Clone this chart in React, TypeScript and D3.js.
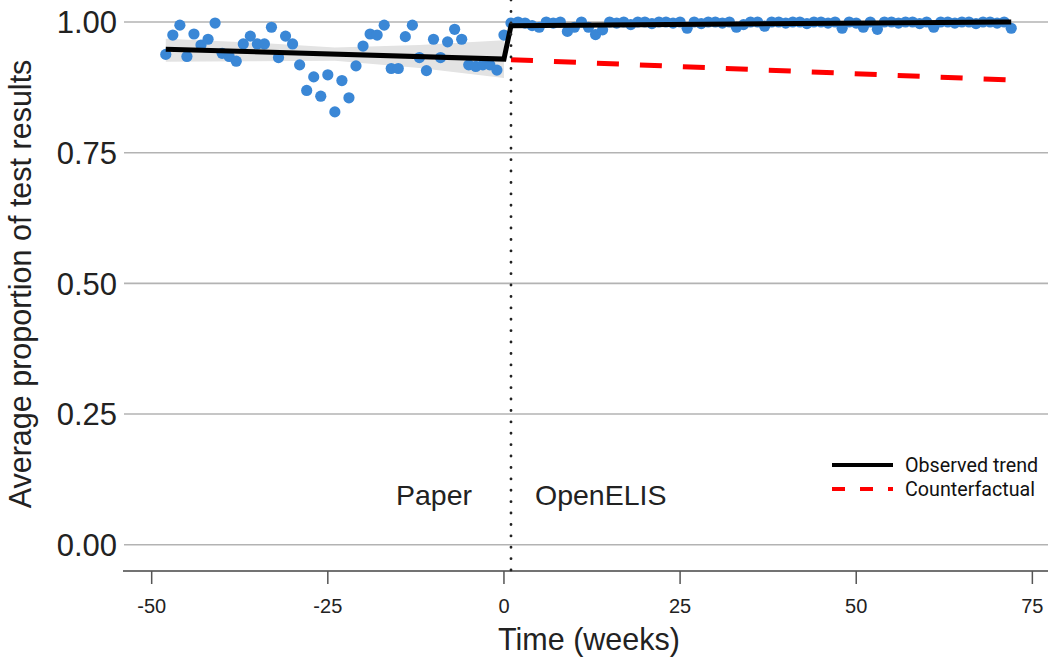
import React from "react";
import * as d3 from "d3";

const preWeeks = d3.range(-48, 1);
const preValues = [
  0.938, 0.975, 0.994, 0.934, 0.977, 0.956, 0.967, 0.998, 0.940, 0.934,
  0.925, 0.958, 0.973, 0.958, 0.958, 0.990, 0.932, 0.973, 0.958, 0.918,
  0.869, 0.895, 0.858, 0.899, 0.828, 0.888, 0.855, 0.916, 0.954, 0.977,
  0.975, 0.994, 0.911, 0.911, 0.972, 0.994, 0.932, 0.907, 0.967, 0.932,
  0.962, 0.986, 0.967, 0.918, 0.915, 0.918, 0.918, 0.908, 0.975,
];

const postWeeks = d3.range(1, 73);
const postValues = [
  0.998, 1.0, 0.998, 0.993, 0.99, 1.0, 0.998, 1.0, 0.982, 0.99,
  1.0, 0.99, 0.976, 0.985, 1.0, 0.998, 1.0, 0.995, 1.0, 1.0,
  0.997, 1.0, 1.0, 0.998, 1.0, 0.988, 1.0, 0.997, 1.0, 1.0,
  0.998, 1.0, 0.99, 0.995, 1.0, 1.0, 0.992, 1.0, 1.0, 0.998,
  1.0, 1.0, 0.997, 1.0, 1.0, 0.998, 1.0, 0.988, 1.0, 0.998,
  0.99, 1.0, 0.986, 1.0, 1.0, 0.998, 1.0, 1.0, 0.997, 1.0,
  0.99, 1.0, 1.0, 0.998, 1.0, 1.0, 0.997, 1.0, 1.0, 0.998,
  1.0, 0.988,
];

const trendWeeks = [-48, 0, 1, 72];
const trendValues = [0.948, 0.929, 0.993, 1.0];

const counterWeeks = [1, 72];
const counterValues = [0.928, 0.889];

const ribbonWeeks = [-48, -36, -24, -12, 0];
const ribbonUpper = [0.968, 0.961, 0.951, 0.956, 0.965];
const ribbonLower = [0.924, 0.925, 0.926, 0.912, 0.893];

const xTicks = [-50, -25, 0, 25, 50, 75];
const yTicks = [0, 0.25, 0.5, 0.75, 1.0];
const interventionWeek = 1;

const legendLabels = ["Observed trend", "Counterfactual"];

export default function App() {
  const W = 1048;
  const H = 664;
  const x = d3.scaleLinear().domain([-54, 78]).range([123.5, 1053.5]);
  const y = d3.scaleLinear().domain([0, 1]).range([544.7, 22]);
  const axisY = 571;
  const sans = "'Liberation Sans', Arial, sans-serif";

  const line = d3
    .line<[number, number]>()
    .x((d) => x(d[0]))
    .y((d) => y(d[1]));

  const area = d3
    .area<number>()
    .x((_, i) => x(ribbonWeeks[i]))
    .y0((_, i) => y(ribbonLower[i]))
    .y1((_, i) => y(ribbonUpper[i]));

  const trendPts: [number, number][] = trendWeeks.map((w, i) => [w, trendValues[i]]);
  const counterPts: [number, number][] = counterWeeks.map((w, i) => [w, counterValues[i]]);

  const points = [
    ...preWeeks.map((w, i) => ({ w, v: preValues[i] })),
    ...postWeeks.map((w, i) => ({ w, v: postValues[i] })),
  ];

  return (
    <svg
      width={W}
      height={H}
      style={{ position: "absolute", left: 0, top: 0, background: "#fff" }}
    >
      <rect x={0} y={0} width={W} height={H} fill="#fff" />
      {yTicks.map((t) => (
        <g key={t}>
          <line x1={124} x2={W} y1={y(t)} y2={y(t)} stroke="#b3b3b3" strokeWidth={1.6} />
          <text
            x={117}
            y={y(t)}
            dy="0.36em"
            textAnchor="end"
            fontFamily={sans}
            fontSize={31}
            fill="#222"
          >
            {d3.format(".2f")(t)}
          </text>
        </g>
      ))}
      <line x1={123} x2={W} y1={axisY} y2={axisY} stroke="#444" strokeWidth={1.6} />
      {xTicks.map((t) => (
        <g key={t}>
          <line x1={x(t)} x2={x(t)} y1={axisY} y2={axisY + 13} stroke="#555" strokeWidth={1.5} />
          <text
            x={x(t)}
            y={613}
            textAnchor="middle"
            fontFamily={sans}
            fontSize={20}
            fill="#222"
          >
            {t}
          </text>
        </g>
      ))}
      <path d={area(ribbonWeeks) || ""} fill="#e3e3e3" />
      {points.map((p, i) => (
        <circle key={i} cx={x(p.w)} cy={y(p.v)} r={5.6} fill="#3a87d6" />
      ))}
      <path d={line(trendPts) || ""} fill="none" stroke="#000" strokeWidth={5} />
      <path
        d={line(counterPts) || ""}
        fill="none"
        stroke="#f00"
        strokeWidth={5}
        strokeDasharray="22 21"
      />
      <line
        x1={x(interventionWeek)}
        x2={x(interventionWeek)}
        y1={0}
        y2={axisY}
        stroke="#222"
        strokeWidth={2.8}
        strokeDasharray="0.1 11.3"
        strokeLinecap="round"
      />
      <text x={472} y={505} textAnchor="end" fontFamily={sans} fontSize={28.5} fill="#222">
        Paper
      </text>
      <text x={535} y={505} textAnchor="start" fontFamily={sans} fontSize={28.5} fill="#222">
        OpenELIS
      </text>
      <text
        transform={`translate(31, 284) rotate(-90)`}
        textAnchor="middle"
        fontFamily={sans}
        fontSize={30.5}
        fill="#222"
      >
        Average proportion of test results
      </text>
      <text x={589} y={650} textAnchor="middle" fontFamily={sans} fontSize={30.5} fill="#222">
        Time (weeks)
      </text>
      <g>
        <line x1={832} x2={893} y1={465} y2={465} stroke="#000" strokeWidth={4} />
        <line
          x1={832}
          x2={893}
          y1={489}
          y2={489}
          stroke="#f00"
          strokeWidth={4}
          strokeDasharray="13 15"
        />
        {legendLabels.map((l, i) => (
          <text
            key={l}
            x={905}
            y={465 + i * 24}
            dy="0.36em"
            fontFamily="Roboto, sans-serif"
            fontSize={19.7}
            fill="#111"
          >
            {l}
          </text>
        ))}
      </g>
    </svg>
  );
}
